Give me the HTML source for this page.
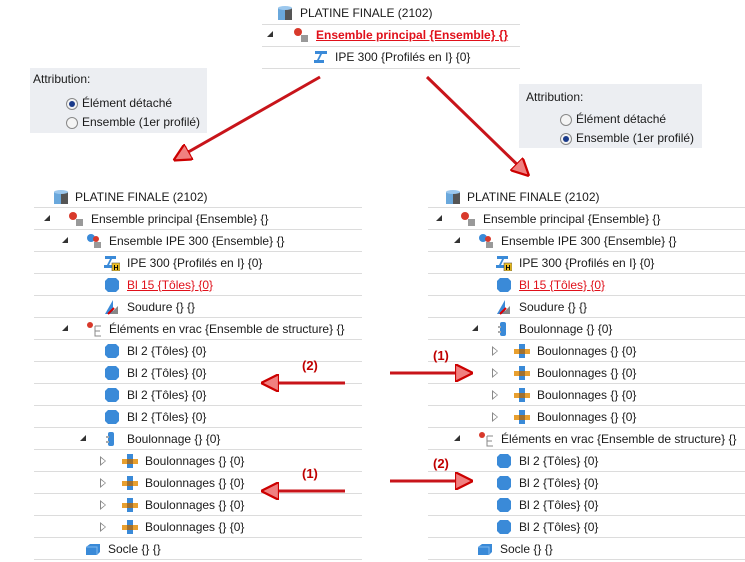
<!DOCTYPE html>
<html><head><meta charset="utf-8"><style>
body{margin:0;width:745px;height:562px;background:#fff;position:relative;overflow:hidden;font-family:"Liberation Sans",sans-serif;font-size:12px;color:#1a1a1a}
.t{position:absolute;line-height:22px;white-space:nowrap}
.r{color:#e0101a;text-decoration:underline}
.sep{position:absolute;height:1px;background:#dcdcdc}
.tri{position:absolute;width:0;height:0;border-left:6px solid transparent;border-bottom:6px solid #333}
.otri{position:absolute;width:0;height:0;border-top:5px solid transparent;border-bottom:5px solid transparent;border-left:6px solid #888}
.otri:after{content:"";position:absolute;left:-5px;top:-3px;border-top:3px solid transparent;border-bottom:3px solid transparent;border-left:4px solid #fff}
.ic{position:absolute}
.box{position:absolute;background:#eceef2}
.rad{position:absolute;width:10px;height:10px;border:1px solid #888;border-radius:50%;background:#f4f4f4}
.rad.on:after{content:"";position:absolute;left:2px;top:2px;width:6px;height:6px;border-radius:50%;background:#1a3a8a}
.lbl{position:absolute;color:#c00000;font-weight:bold;font-size:13px}
</style></head><body>

<div class="box" style="left:30px;top:68px;width:177px;height:65px"></div>
<div class="t" style="left:33px;top:68px">Attribution:</div>
<div class="rad on" style="left:66px;top:98px"></div><div class="t" style="left:82px;top:92px">Élément détaché</div>
<div class="rad" style="left:66px;top:117px"></div><div class="t" style="left:82px;top:111px">Ensemble (1er profilé)</div>

<div class="box" style="left:519px;top:84px;width:183px;height:64px"></div>
<div class="t" style="left:526px;top:86px">Attribution:</div>
<div class="rad" style="left:560px;top:114px"></div><div class="t" style="left:576px;top:108px">Élément détaché</div>
<div class="rad on" style="left:560px;top:133px"></div><div class="t" style="left:576px;top:127px">Ensemble (1er profilé)</div>

<svg width="0" height="0" style="position:absolute">
<defs>
<symbol id="cyl" viewBox="0 0 16 16"><rect x="1" y="3" width="14" height="12" fill="#6aa8dc"/><rect x="8" y="3" width="7" height="12" fill="#555"/><ellipse cx="8" cy="3" rx="7" ry="2" fill="#9cc8ee"/></symbol>
<symbol id="ensr" viewBox="0 0 16 16"><circle cx="5" cy="5" r="4" fill="#d8392b"/><rect x="8" y="8" width="7" height="7" fill="#999"/></symbol>
<symbol id="ensb" viewBox="0 0 16 16"><circle cx="5" cy="5" r="4" fill="#3a8ad8"/><circle cx="10" cy="6" r="3" fill="#d8392b"/><rect x="8" y="9" width="7" height="6" fill="#999"/></symbol>
<symbol id="beam" viewBox="0 0 16 16"><path d="M2 2h12v3H9l-3 6h5v3H1v-3h3l3-6H2z" fill="#3a8ad8"/></symbol>
<symbol id="beamh" viewBox="0 0 16 16"><path d="M1 1h11v3H8l-3 6h4v3H0v-3h3l3-6H1z" fill="#3a8ad8"/><rect x="8" y="8" width="8" height="8" fill="#f0c020" stroke="#555" stroke-width=".6"/><text x="9.5" y="15" font-size="7" font-family="Liberation Sans" font-weight="bold">H</text></symbol>
<symbol id="plate" viewBox="0 0 16 16"><path d="M4 1h8l3 3v8l-3 3H4l-3-3V4z" fill="#3a8ad8"/></symbol>
<symbol id="soud" viewBox="0 0 16 16"><path d="M9 1v14H1z" fill="#3a8ad8"/><path d="M6 15l8-8v8z" fill="#888"/><path d="M4 15l6-6" stroke="#d00" stroke-width="2"/></symbol>
<symbol id="vrac" viewBox="0 0 16 16"><circle cx="4" cy="4" r="3" fill="#d8392b"/><path d="M9 5h6M9 5v10h6M9 10h5" stroke="#888" fill="none"/></symbol>
<symbol id="boul1" viewBox="0 0 16 16"><rect x="4" y="1" width="6" height="14" rx="2" fill="#3a8ad8"/><rect x="2" y="5" width="3" height="2" fill="#aaa"/><rect x="2" y="10" width="3" height="2" fill="#aaa"/></symbol>
<symbol id="boul" viewBox="0 0 16 16"><rect x="5" y="1" width="6" height="14" fill="#3a8ad8"/><rect x="0" y="6" width="16" height="5" fill="#e8a030"/><rect x="5" y="6" width="6" height="5" fill="#a07030"/></symbol>
<symbol id="socle" viewBox="0 0 16 16"><path d="M1 6l4-3h10v8l-3 3H1z" fill="#3a8ad8"/><path d="M1 6h11v8" fill="none" stroke="#7fb8ee"/></symbol>
</defs></svg>

<!-- top tree -->
<div class="sep" style="left:262px;top:24px;width:258px"></div>
<div class="sep" style="left:262px;top:46px;width:258px"></div>
<div class="sep" style="left:262px;top:68px;width:258px"></div>
<svg class="ic" style="left:277px;top:5px" width="16" height="16"><use href="#cyl"/></svg>
<div class="t" style="left:300px;top:2px">PLATINE FINALE (2102)</div>
<div class="tri" style="left:267px;top:31px"></div>
<svg class="ic" style="left:293px;top:27px" width="16" height="16"><use href="#ensr"/></svg>
<div class="t r" style="left:316px;top:24px;font-weight:bold">Ensemble principal {Ensemble} {}</div>
<svg class="ic" style="left:313px;top:49px" width="16" height="16"><use href="#beam"/></svg>
<div class="t" style="left:335px;top:46px">IPE 300 {Profilés en I} {0}</div>

<!-- left tree -->
<div style="position:absolute;left:0;top:0">
<div class="sep" style="left:34px;top:207px;width:328px"></div><div class="sep" style="left:34px;top:229px;width:328px"></div><div class="sep" style="left:34px;top:251px;width:328px"></div><div class="sep" style="left:34px;top:273px;width:328px"></div><div class="sep" style="left:34px;top:295px;width:328px"></div><div class="sep" style="left:34px;top:317px;width:328px"></div><div class="sep" style="left:34px;top:339px;width:328px"></div><div class="sep" style="left:34px;top:361px;width:328px"></div><div class="sep" style="left:34px;top:383px;width:328px"></div><div class="sep" style="left:34px;top:405px;width:328px"></div><div class="sep" style="left:34px;top:427px;width:328px"></div><div class="sep" style="left:34px;top:449px;width:328px"></div><div class="sep" style="left:34px;top:471px;width:328px"></div><div class="sep" style="left:34px;top:493px;width:328px"></div><div class="sep" style="left:34px;top:515px;width:328px"></div><div class="sep" style="left:34px;top:537px;width:328px"></div><div class="sep" style="left:34px;top:559px;width:328px"></div>
<svg class="ic" style="left:53px;top:189px" width="16" height="16"><use href="#cyl"/></svg><div class="t" style="left:75px;top:186px">PLATINE FINALE (2102)</div>
<div class="tri" style="left:44px;top:215px"></div><svg class="ic" style="left:68px;top:211px" width="16" height="16"><use href="#ensr"/></svg><div class="t" style="left:91px;top:208px">Ensemble principal {Ensemble} {}</div>
<div class="tri" style="left:62px;top:237px"></div><svg class="ic" style="left:86px;top:233px" width="16" height="16"><use href="#ensb"/></svg><div class="t" style="left:109px;top:230px">Ensemble IPE 300 {Ensemble} {}</div>
<svg class="ic" style="left:104px;top:255px" width="16" height="16"><use href="#beamh"/></svg><div class="t" style="left:127px;top:252px">IPE 300 {Profilés en I} {0}</div>
<svg class="ic" style="left:104px;top:277px" width="16" height="16"><use href="#plate"/></svg><div class="t r" style="left:127px;top:274px">Bl 15 {Tôles} {0}</div>
<svg class="ic" style="left:104px;top:299px" width="16" height="16"><use href="#soud"/></svg><div class="t" style="left:127px;top:296px">Soudure {} {}</div>
<div class="tri" style="left:62px;top:325px"></div><svg class="ic" style="left:86px;top:321px" width="16" height="16"><use href="#vrac"/></svg><div class="t" style="left:109px;top:318px">Éléments en vrac {Ensemble de structure} {}</div>
<svg class="ic" style="left:104px;top:343px" width="16" height="16"><use href="#plate"/></svg><div class="t" style="left:127px;top:340px">Bl 2 {Tôles} {0}</div>
<svg class="ic" style="left:104px;top:365px" width="16" height="16"><use href="#plate"/></svg><div class="t" style="left:127px;top:362px">Bl 2 {Tôles} {0}</div>
<svg class="ic" style="left:104px;top:387px" width="16" height="16"><use href="#plate"/></svg><div class="t" style="left:127px;top:384px">Bl 2 {Tôles} {0}</div>
<svg class="ic" style="left:104px;top:409px" width="16" height="16"><use href="#plate"/></svg><div class="t" style="left:127px;top:406px">Bl 2 {Tôles} {0}</div>
<div class="tri" style="left:80px;top:435px"></div><svg class="ic" style="left:104px;top:431px" width="16" height="16"><use href="#boul1"/></svg><div class="t" style="left:127px;top:428px">Boulonnage {} {0}</div>
<div class="otri" style="left:100px;top:456px"></div><svg class="ic" style="left:122px;top:453px" width="16" height="16"><use href="#boul"/></svg><div class="t" style="left:145px;top:450px">Boulonnages {} {0}</div>
<div class="otri" style="left:100px;top:478px"></div><svg class="ic" style="left:122px;top:475px" width="16" height="16"><use href="#boul"/></svg><div class="t" style="left:145px;top:472px">Boulonnages {} {0}</div>
<div class="otri" style="left:100px;top:500px"></div><svg class="ic" style="left:122px;top:497px" width="16" height="16"><use href="#boul"/></svg><div class="t" style="left:145px;top:494px">Boulonnages {} {0}</div>
<div class="otri" style="left:100px;top:522px"></div><svg class="ic" style="left:122px;top:519px" width="16" height="16"><use href="#boul"/></svg><div class="t" style="left:145px;top:516px">Boulonnages {} {0}</div>
<svg class="ic" style="left:85px;top:541px" width="16" height="16"><use href="#socle"/></svg><div class="t" style="left:108px;top:538px">Socle {} {}</div>
</div>

<!-- right tree -->
<div style="position:absolute;left:0;top:0">
<div class="sep" style="left:428px;top:207px;width:317px"></div><div class="sep" style="left:428px;top:229px;width:317px"></div><div class="sep" style="left:428px;top:251px;width:317px"></div><div class="sep" style="left:428px;top:273px;width:317px"></div><div class="sep" style="left:428px;top:295px;width:317px"></div><div class="sep" style="left:428px;top:317px;width:317px"></div><div class="sep" style="left:428px;top:339px;width:317px"></div><div class="sep" style="left:428px;top:361px;width:317px"></div><div class="sep" style="left:428px;top:383px;width:317px"></div><div class="sep" style="left:428px;top:405px;width:317px"></div><div class="sep" style="left:428px;top:427px;width:317px"></div><div class="sep" style="left:428px;top:449px;width:317px"></div><div class="sep" style="left:428px;top:471px;width:317px"></div><div class="sep" style="left:428px;top:493px;width:317px"></div><div class="sep" style="left:428px;top:515px;width:317px"></div><div class="sep" style="left:428px;top:537px;width:317px"></div><div class="sep" style="left:428px;top:559px;width:317px"></div>
<svg class="ic" style="left:445px;top:189px" width="16" height="16"><use href="#cyl"/></svg><div class="t" style="left:467px;top:186px">PLATINE FINALE (2102)</div>
<div class="tri" style="left:436px;top:215px"></div><svg class="ic" style="left:460px;top:211px" width="16" height="16"><use href="#ensr"/></svg><div class="t" style="left:483px;top:208px">Ensemble principal {Ensemble} {}</div>
<div class="tri" style="left:454px;top:237px"></div><svg class="ic" style="left:478px;top:233px" width="16" height="16"><use href="#ensb"/></svg><div class="t" style="left:501px;top:230px">Ensemble IPE 300 {Ensemble} {}</div>
<svg class="ic" style="left:496px;top:255px" width="16" height="16"><use href="#beamh"/></svg><div class="t" style="left:519px;top:252px">IPE 300 {Profilés en I} {0}</div>
<svg class="ic" style="left:496px;top:277px" width="16" height="16"><use href="#plate"/></svg><div class="t r" style="left:519px;top:274px">Bl 15 {Tôles} {0}</div>
<svg class="ic" style="left:496px;top:299px" width="16" height="16"><use href="#soud"/></svg><div class="t" style="left:519px;top:296px">Soudure {} {}</div>
<div class="tri" style="left:472px;top:325px"></div><svg class="ic" style="left:496px;top:321px" width="16" height="16"><use href="#boul1"/></svg><div class="t" style="left:519px;top:318px">Boulonnage {} {0}</div>
<div class="otri" style="left:492px;top:346px"></div><svg class="ic" style="left:514px;top:343px" width="16" height="16"><use href="#boul"/></svg><div class="t" style="left:537px;top:340px">Boulonnages {} {0}</div>
<div class="otri" style="left:492px;top:368px"></div><svg class="ic" style="left:514px;top:365px" width="16" height="16"><use href="#boul"/></svg><div class="t" style="left:537px;top:362px">Boulonnages {} {0}</div>
<div class="otri" style="left:492px;top:390px"></div><svg class="ic" style="left:514px;top:387px" width="16" height="16"><use href="#boul"/></svg><div class="t" style="left:537px;top:384px">Boulonnages {} {0}</div>
<div class="otri" style="left:492px;top:412px"></div><svg class="ic" style="left:514px;top:409px" width="16" height="16"><use href="#boul"/></svg><div class="t" style="left:537px;top:406px">Boulonnages {} {0}</div>
<div class="tri" style="left:454px;top:435px"></div><svg class="ic" style="left:478px;top:431px" width="16" height="16"><use href="#vrac"/></svg><div class="t" style="left:501px;top:428px">Éléments en vrac {Ensemble de structure} {}</div>
<svg class="ic" style="left:496px;top:453px" width="16" height="16"><use href="#plate"/></svg><div class="t" style="left:519px;top:450px">Bl 2 {Tôles} {0}</div>
<svg class="ic" style="left:496px;top:475px" width="16" height="16"><use href="#plate"/></svg><div class="t" style="left:519px;top:472px">Bl 2 {Tôles} {0}</div>
<svg class="ic" style="left:496px;top:497px" width="16" height="16"><use href="#plate"/></svg><div class="t" style="left:519px;top:494px">Bl 2 {Tôles} {0}</div>
<svg class="ic" style="left:496px;top:519px" width="16" height="16"><use href="#plate"/></svg><div class="t" style="left:519px;top:516px">Bl 2 {Tôles} {0}</div>
<svg class="ic" style="left:477px;top:541px" width="16" height="16"><use href="#socle"/></svg><div class="t" style="left:500px;top:538px">Socle {} {}</div>
</div>

<!-- arrows -->
<svg style="position:absolute;left:0;top:0" width="745" height="562">
<defs>
<marker id="ah" viewBox="0 0 12 12" refX="10" refY="6" markerWidth="6" markerHeight="6" orient="auto" markerUnits="strokeWidth">
<path d="M0 0L12 6L0 12z" fill="#f08080" stroke="#c00" stroke-width="1.5"/></marker>
</defs>
<g stroke="#c8141a" stroke-width="3" fill="none" marker-end="url(#ah)">
<line x1="320" y1="77" x2="176" y2="159"/>
<line x1="427" y1="77" x2="527" y2="174"/>
<line x1="345" y1="383" x2="264" y2="383"/>
<line x1="345" y1="491" x2="264" y2="491"/>
<line x1="390" y1="373" x2="470" y2="373"/>
<line x1="390" y1="481" x2="470" y2="481"/>
</g>
</svg>
<div class="lbl" style="left:302px;top:358px">(2)</div>
<div class="lbl" style="left:302px;top:466px">(1)</div>
<div class="lbl" style="left:433px;top:348px">(1)</div>
<div class="lbl" style="left:433px;top:456px">(2)</div>
</body></html>
